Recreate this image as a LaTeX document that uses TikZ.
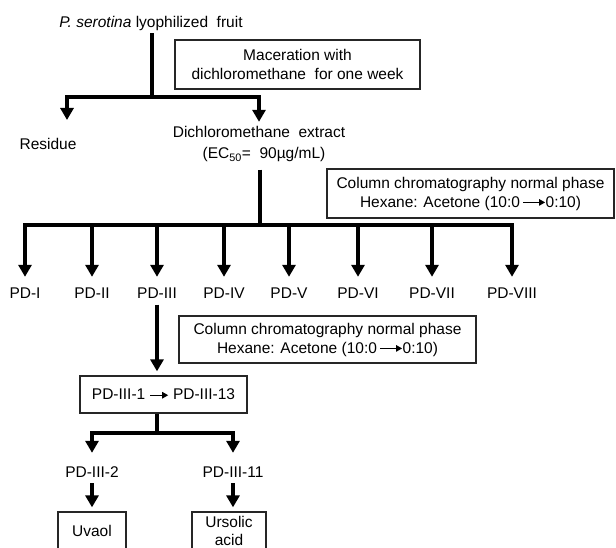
\documentclass[tikz,border=0pt]{standalone}
\usepackage{fontspec}
\setmainfont{Liberation Sans}
\usetikzlibrary{arrows.meta}
\newcommand{\thinarr}[1]{\tikz[baseline=-4.6pt]\draw[line width=1.1pt,-{Triangle[length=6pt,width=6.5pt]}] (0pt,0pt) -- (#1,0pt);}
\begin{document}
\begin{tikzpicture}[x=1pt,y=-1pt,
  every node/.style={font=\fontsize{15.5}{19}\selectfont},
  lbl/.style={inner sep=0pt, text height=11pt, text depth=0pt},
  box/.style={draw=black!85, line width=1.3pt, align=center, inner sep=0pt},
  thk/.style={line width=4.5pt},
  arr/.style={line width=4.5pt, -{Triangle[length=12pt,width=13pt]}}]
\clip (0,0) rectangle (616,548);
\fill[white] (0,0) rectangle (616,548);
% top level
\node[lbl] (top) at (151,22) {\textit{P. serotina} lyophilized\ \ fruit};
\node[box, minimum width=245pt, minimum height=49pt] (mac) at (297.5,64.5) {Maceration with\\dichloromethane\ \ for one week};
\coordinate (j1) at (152,97);
\node[lbl] (res) at (48,144) {Residue};
\coordinate (resin) at (67,120);
\node[lbl] (dcm) at (259,132) {Dichloromethane\ \ extract};
\node[lbl] (ec) at (264,153) {(EC\textsubscript{50}=\ \ 90µg/mL)};
\draw[thk, shorten <=5.5pt] (top.south -| j1) -- (j1);
\draw[arr] (j1) -| (resin);
\draw[arr, shorten >=4.5pt] (j1) -| (dcm);
% first column
\node[box, minimum width=287pt, minimum height=49pt] (col1) at (470.5,193.5) {Column chromatography normal phase\\Hexane: Acetone (10:0\,\thinarr{22pt}0:10)};
\coordinate (j2) at (260,225);
\draw[thk, shorten <=11pt] (ec.south -| j2) -- (j2);
\foreach \n/\x/\t in {1/25/PD-I, 2/92/PD-II, 3/157/PD-III, 4/224/PD-IV, 5/289/PD-V, 6/358/PD-VI, 7/432/PD-VII, 8/512/PD-VIII}
  \node[lbl] (pd\n) at (\x,293) {\t};
\foreach \n in {1,...,8}
  \draw[arr, shorten >=10.5pt] (j2) -| (pd\n);
% second column
\node[box, minimum width=297pt, minimum height=47pt] (col2) at (327.5,339.5) {Column chromatography normal phase\\Hexane: Acetone (10:0\,\thinarr{22pt}0:10)};
\node[box, minimum width=167pt, minimum height=37pt] (p3box) at (163.5,394.5) {PD-III-1\ \thinarr{18pt}\ PD-III-13};
\draw[arr, shorten <=6pt, shorten >=4pt] (pd3.south) -- (pd3.south |- p3box.north);
\coordinate (j3) at (157,433);
\draw[thk] (p3box.south -| j3) -- (j3);
\node[lbl] (pd32) at (92,472) {PD-III-2};
\node[lbl] (pd311) at (233,472) {PD-III-11};
\draw[arr, shorten >=13.5pt] (j3) -| (pd32);
\draw[arr, shorten >=13.5pt] (j3) -| (pd311);
\node[box, minimum width=68pt, minimum height=38pt] (uv) at (92,531) {Uvaol};
\node[box, minimum width=74pt, minimum height=38pt, font=\fontsize{15.5}{18}\selectfont] (urs) at (229,531) {Ursolic\\acid};
\draw[arr, shorten <=5.5pt, shorten >=4pt] (pd32.south) -- (pd32.south |- uv.north);
\draw[arr, shorten <=5.5pt, shorten >=4pt] (pd311.south) -- (pd311.south |- urs.north);
\end{tikzpicture}
\end{document}
